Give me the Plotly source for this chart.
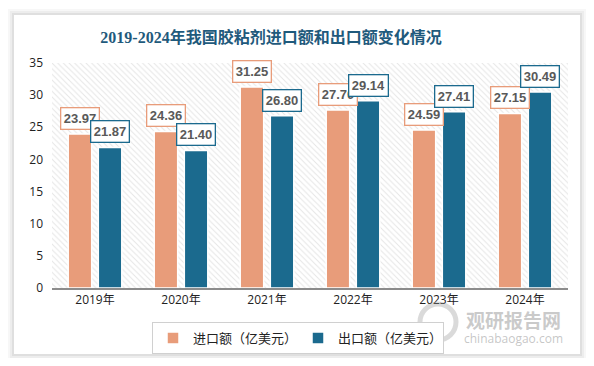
import plotly.graph_objects as go

years = ["2019年", "2020年", "2021年", "2022年", "2023年", "2024年"]
imports = [23.97, 24.36, 31.25, 27.70, 24.59, 27.15]
exports = [21.87, 21.40, 26.80, 29.14, 27.41, 30.49]
series_names = ["进口额（亿美元）", "出口额（亿美元）"]
title_text = "2019-2024年我国胶粘剂进口额和出口额变化情况"

C_IMP = "#E89C7A"
C_EXP = "#1B6A8E"
FONT = "Open Sans, Noto Sans CJK SC, sans-serif"

# page body has an 8px margin: figure drawn at (8, 8)
OFF = 8
W, H = 594 - 2 * OFF, 366 - 2 * OFF
PL, PR, PT, PB = 52, 568, 63, 288  # plot area in window pixels
L, T = PL - OFF, PT - OFF
R = (W + OFF) - PR
B = (H + OFF) - PB
pw, ph = PR - PL, PB - PT
def px(x): return (x - PL) / pw
def py(y): return (PB - y) / ph

fig = go.Figure()

# hatched plot-area background
fig.add_trace(go.Bar(
    x=[0.5], y=[35], width=[1], xaxis="x", yaxis="y",
    marker=dict(color="white", line=dict(width=0),
                pattern=dict(shape="\\", fgcolor="#cccccc", bgcolor="white",
                             size=4, solidity=0.25)),
    showlegend=False, hoverinfo="skip"))

fig.add_trace(go.Bar(
    x=years, y=imports, name=series_names[0], xaxis="x2", yaxis="y",
    marker=dict(color=C_IMP, line=dict(color="white", width=1.5))))
fig.add_trace(go.Bar(
    x=years, y=exports, name=series_names[1], xaxis="x2", yaxis="y",
    marker=dict(color=C_EXP, line=dict(color="white", width=1.5))))

annotations = []
for vals, col, sh in [(imports, C_IMP, -15), (exports, C_EXP, 15)]:
    for yr, v in zip(years, vals):
        annotations.append(dict(x=yr, y=v, xref="x2", yref="y", text=f"<b>{v:.2f}</b>",
                                showarrow=False, xshift=sh, yshift=4, yanchor="bottom",
                                font=dict(family="Liberation Sans, Arial", size=13, color="#595959"),
                                bgcolor="white", bordercolor=col, borderwidth=1.3, borderpad=2.5))

# watermark
annotations.append(dict(x=px(513), y=py(319), xref="paper", yref="paper", text="<b>观研报告网</b>",
                        xanchor="center", yanchor="middle",
                        showarrow=False, font=dict(family="Noto Sans CJK SC", size=19, color="rgba(150,150,150,0.5)")))
annotations.append(dict(x=px(513), y=py(338), xref="paper", yref="paper", text="chinabaogao.com",
                        xanchor="center", yanchor="middle",
                        showarrow=False, font=dict(family=FONT, size=12, color="rgba(150,150,150,0.55)")))

shapes = []
# card shadow
for d, a in [(6, 0.03), (4, 0.04), (2, 0.06)]:
    shapes.append(dict(type="rect", xref="paper", yref="paper", layer="below",
                       x0=px(14 - d), x1=px(580 + d), y0=py(354 + d), y1=py(15 - d),
                       fillcolor=f"rgba(0,0,0,{a})", line=dict(width=0)))
shapes.append(dict(type="rect", xref="paper", yref="paper", layer="below",
                   x0=px(14), x1=px(580), y0=py(354), y1=py(15),
                   fillcolor="white", line=dict(width=0)))
# watermark swirl logo (decorative)
shapes.append(dict(type="circle", xref="paper", yref="paper", layer="above",
                   x0=px(420), x1=px(456), y0=py(340), y1=py(304),
                   fillcolor="rgba(0,0,0,0)", line=dict(color="rgba(150,150,150,0.35)", width=5)))

fig.update_layout(
    width=W, height=H,
    margin=dict(l=L, r=R, t=T, b=B, autoexpand=False),
    paper_bgcolor="white",
    plot_bgcolor="rgba(0,0,0,0)",
    barmode="group", bargap=0.30, bargroupgap=0.22,
    title=dict(text="<b>" + title_text + "</b>", x=px(271), xref="paper", xanchor="center",
               y=1 - (37 - OFF) / H, yanchor="middle",
               font=dict(family="Liberation Serif, Noto Sans CJK SC, serif", size=16, color="#1F5A7C")),
    xaxis=dict(range=[0, 1], visible=False, fixedrange=True),
    xaxis2=dict(type="category", overlaying="x", side="bottom", showgrid=False,
                showline=True, linecolor="#8c8c8c", linewidth=1.5, ticks="",
                tickfont=dict(family=FONT, size=12, color="#222")),
    yaxis=dict(range=[0, 35], dtick=5, showgrid=False, zeroline=False, showline=False,
               tickfont=dict(family=FONT, size=12, color="#222"), ticklabelstandoff=8),
    legend=dict(orientation="h", x=px(152), y=py(322), xanchor="left", yanchor="top",
                bordercolor="#d0d0d0", borderwidth=1, bgcolor="white",
                font=dict(family=FONT, size=13, color="#222"), entrywidth=100,
                traceorder="normal"),
    annotations=annotations, shapes=shapes,
)

fig.write_html("out.html")
